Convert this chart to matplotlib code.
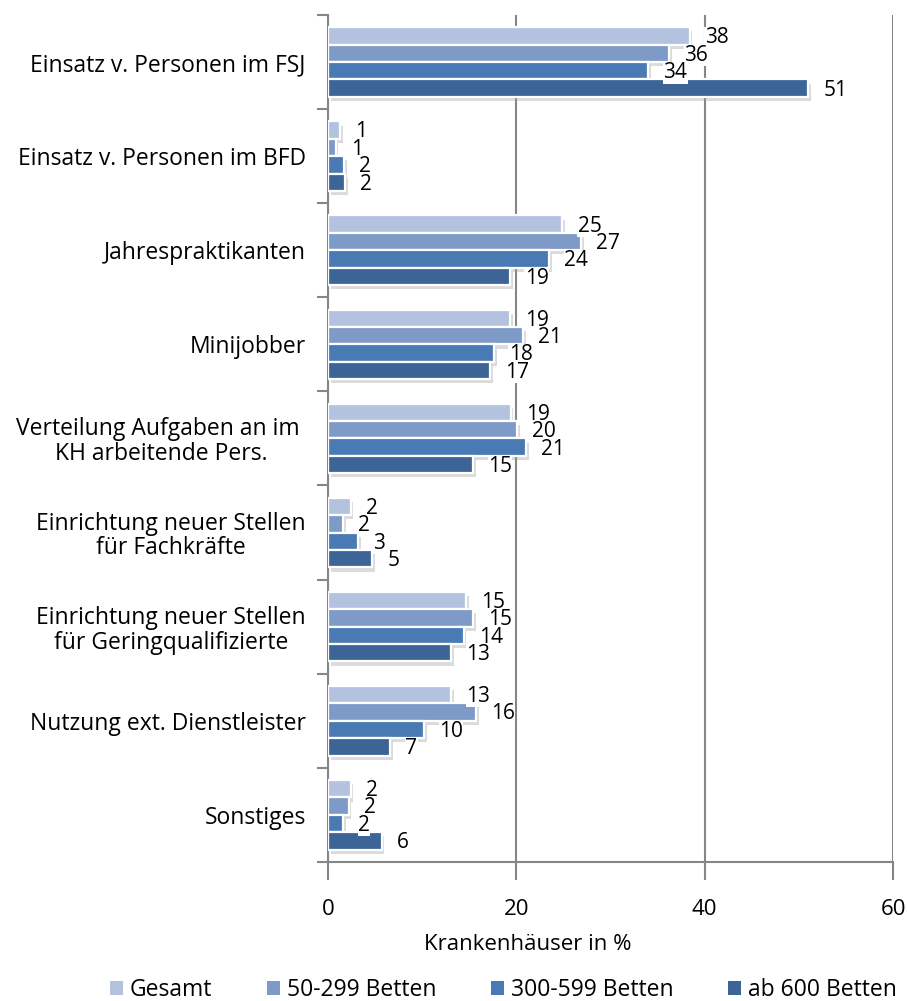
import numpy as np
import matplotlib
matplotlib.use('Agg')
import matplotlib.pyplot as plt
import matplotlib.patheffects as pe

plt.rcParams['font.family'] = ['Open Sans', 'DejaVu Sans']

categories = ['Einsatz v. Personen im FSJ',
              'Einsatz v. Personen im BFD',
              'Jahrespraktikanten',
              'Minijobber',
              'Verteilung Aufgaben an im \nKH arbeitende Pers.',
              'Einrichtung neuer Stellen\nfür Fachkräfte',
              'Einrichtung neuer Stellen\nfür Geringqualifizierte',
              'Nutzung ext. Dienstleister',
              'Sonstiges']
series_names = ['Gesamt', '50-299 Betten', '300-599 Betten', 'ab 600 Betten']
gesamt = [38.4, 1.3, 24.9, 19.3, 19.4, 2.4, 14.7, 13.1, 2.4]
betten_50_299 = [36.2, 0.8, 26.9, 20.7, 20.1, 1.6, 15.4, 15.7, 2.2]
betten_300_599 = [34.0, 1.7, 23.5, 17.6, 21.0, 3.2, 14.4, 10.2, 1.6]
betten_ab_600 = [51.0, 1.8, 19.3, 17.2, 15.4, 4.7, 13.1, 6.6, 5.7]
xticks = [0, 20, 40, 60]

colors = ['#b3c3df', '#7e9bc8', '#4a7ab3', '#3d6496']
all_series = [gesamt, betten_50_299, betten_300_599, betten_ab_600]

fig = plt.figure(figsize=(9.07, 10.01), dpi=100)
ax = fig.add_axes([0.3616, 0.139, 0.6230, 0.846])

n = len(categories)
pos = np.arange(n)
pitch = 0.185
shadow = [pe.SimplePatchShadow(offset=(2, -3), shadow_rgbFace='#9a9a9a', alpha=0.35),
          pe.Normal()]

for k, (vals, col, name) in enumerate(zip(all_series, colors, series_names)):
    y = pos - 1.5 * pitch + k * pitch
    bars = ax.barh(y, vals, height=pitch, color=col, edgecolor='white',
                   linewidth=1.6, label=name, zorder=3)
    for b in bars:
        b.set_path_effects(shadow)
    for yy, v in zip(y, vals):
        ax.text(v + 1.6, yy + 0.02, f'{v:.0f}', ha='left', va='center',
                fontsize=15, color='black', zorder=4,
                bbox=dict(boxstyle='square,pad=0.02', fc='white', ec='none'))

ax.set_ylim(n - 0.5, -0.5)
ax.set_xlim(0, 60)

ax.set_yticks(pos)
ax.set_yticklabels(categories, fontsize=16.5, multialignment='center', linespacing=1.05)
ax.set_yticks(np.arange(-0.5, n, 1.0), minor=True)
ax.tick_params(axis='y', which='major', length=0, pad=16)
ax.tick_params(axis='y', which='minor', length=8, width=1.5, color='#868686', direction='out')

ax.set_xticks(xticks)
ax.set_xticklabels([str(t) for t in xticks], fontsize=16)
ax.tick_params(axis='x', length=13, width=1.5, color='#868686', direction='out', pad=14)

ax.grid(axis='x', color='#868686', linewidth=1.5, zorder=0)
ax.set_axisbelow(True)
for side in ['top', 'right']:
    ax.spines[side].set_visible(False)
ax.spines['left'].set_color('#868686')
ax.spines['left'].set_linewidth(1.5)
ax.spines['bottom'].set_color('#868686')
ax.spines['bottom'].set_linewidth(1.5)

fig.text(0.5822, 0.056, 'Krankenhäuser in %', ha='center', va='center', fontsize=16)

handles, labels = ax.get_legend_handles_labels()
leg = fig.legend(handles, labels, loc='center', bbox_to_anchor=(0.555, 0.011),
                 ncol=4, frameon=False, fontsize=16.5, handlelength=0.55,
                 handleheight=0.55, handletextpad=0.3, columnspacing=2.4)
for h in leg.legend_handles:
    h.set_path_effects([])
    h.set_edgecolor('none')

fig.savefig('out.png', dpi=100)
